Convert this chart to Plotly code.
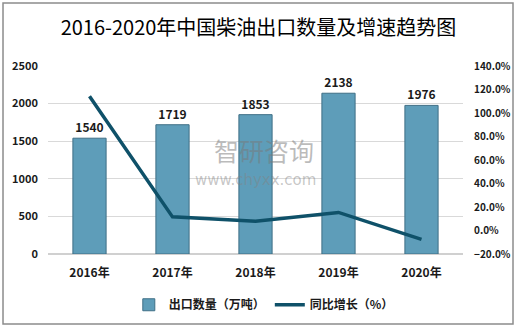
import plotly.graph_objects as go

years = ["2016年", "2017年", "2018年", "2019年", "2020年"]
export_qty = [1540, 1719, 1853, 2138, 1976]
yoy_growth = [114.3, 11.6, 7.8, 15.4, -7.6]

title_text = "2016-2020年中国柴油出口数量及增速趋势图"
bar_name = "出口数量（万吨）"
line_name = "同比增长（%）"

CJK = "Noto Sans CJK SC"

fig = go.Figure()
fig.add_trace(go.Bar(
    x=years, y=export_qty, name=bar_name,
    marker=dict(color="#5e9db9", line=dict(color="#3f6f86", width=1)),
    text=[str(v) for v in export_qty], textposition="outside",
    textfont=dict(family=CJK, size=12, color="#1a1a1a", weight="bold"),
    cliponaxis=False, width=0.4,
))
fig.add_trace(go.Scatter(
    x=years, y=yoy_growth, name=line_name, yaxis="y2",
    mode="lines", line=dict(color="#0f5169", width=3.5),
))

fig.add_annotation(text="智研咨询", x=0.52, y=0.555, xref="paper", yref="paper",
                   showarrow=False, font=dict(family=CJK, size=25, color="rgba(120,120,120,0.5)"))
fig.add_annotation(text="www.chyxx.com", x=0.5, y=0.395, xref="paper", yref="paper",
                   showarrow=False, font=dict(family="DejaVu Sans", size=15, color="rgba(130,130,130,0.45)"))

fig.add_shape(type="rect", xref="paper", yref="paper",
              x0=-0.1084, x1=1.1205, y0=-0.372, y1=1.335,
              line=dict(color="#8c8c8c", width=1.5), layer="below")

fig.update_layout(
    width=517, height=329,
    margin=dict(l=48, r=54, t=66, b=75, autoexpand=False),
    paper_bgcolor="white", plot_bgcolor="white",
    title=dict(text=title_text, x=0.5, xanchor="center", y=0.915, yanchor="middle",
               font=dict(family=CJK, size=20, color="#000000")),
    font=dict(family=CJK, size=11, color="#1a1a1a"),
    xaxis=dict(showgrid=False, showline=False, ticks="", ticklabelstandoff=10, automargin=False,
               tickfont=dict(family=CJK, size=12, color="#1a1a1a", weight="bold")),
    yaxis=dict(range=[0, 2500], dtick=500, showgrid=True, gridcolor="#d9d9d9", gridwidth=1,
               zeroline=True, zerolinecolor="#d0d0d0", showline=False, ticklabelstandoff=9,
               automargin=False,
               tickfont=dict(family=CJK, size=11, color="#1a1a1a", weight="bold")),
    yaxis2=dict(range=[-20, 140], dtick=20, overlaying="y", side="right",
                showgrid=False, zeroline=False, ticksuffix="%", tickformat=".1f",
                ticklabelstandoff=10, automargin=False,
                tickfont=dict(family=CJK, size=10, color="#1a1a1a", weight="bold")),
    legend=dict(orientation="h", x=0.52, xanchor="center", y=-0.27, yanchor="middle",
                font=dict(family=CJK, size=12, color="#1a1a1a", weight="bold"),
                itemwidth=30, tracegroupgap=0),
    showlegend=True,
)

fig.write_html("out.html")
